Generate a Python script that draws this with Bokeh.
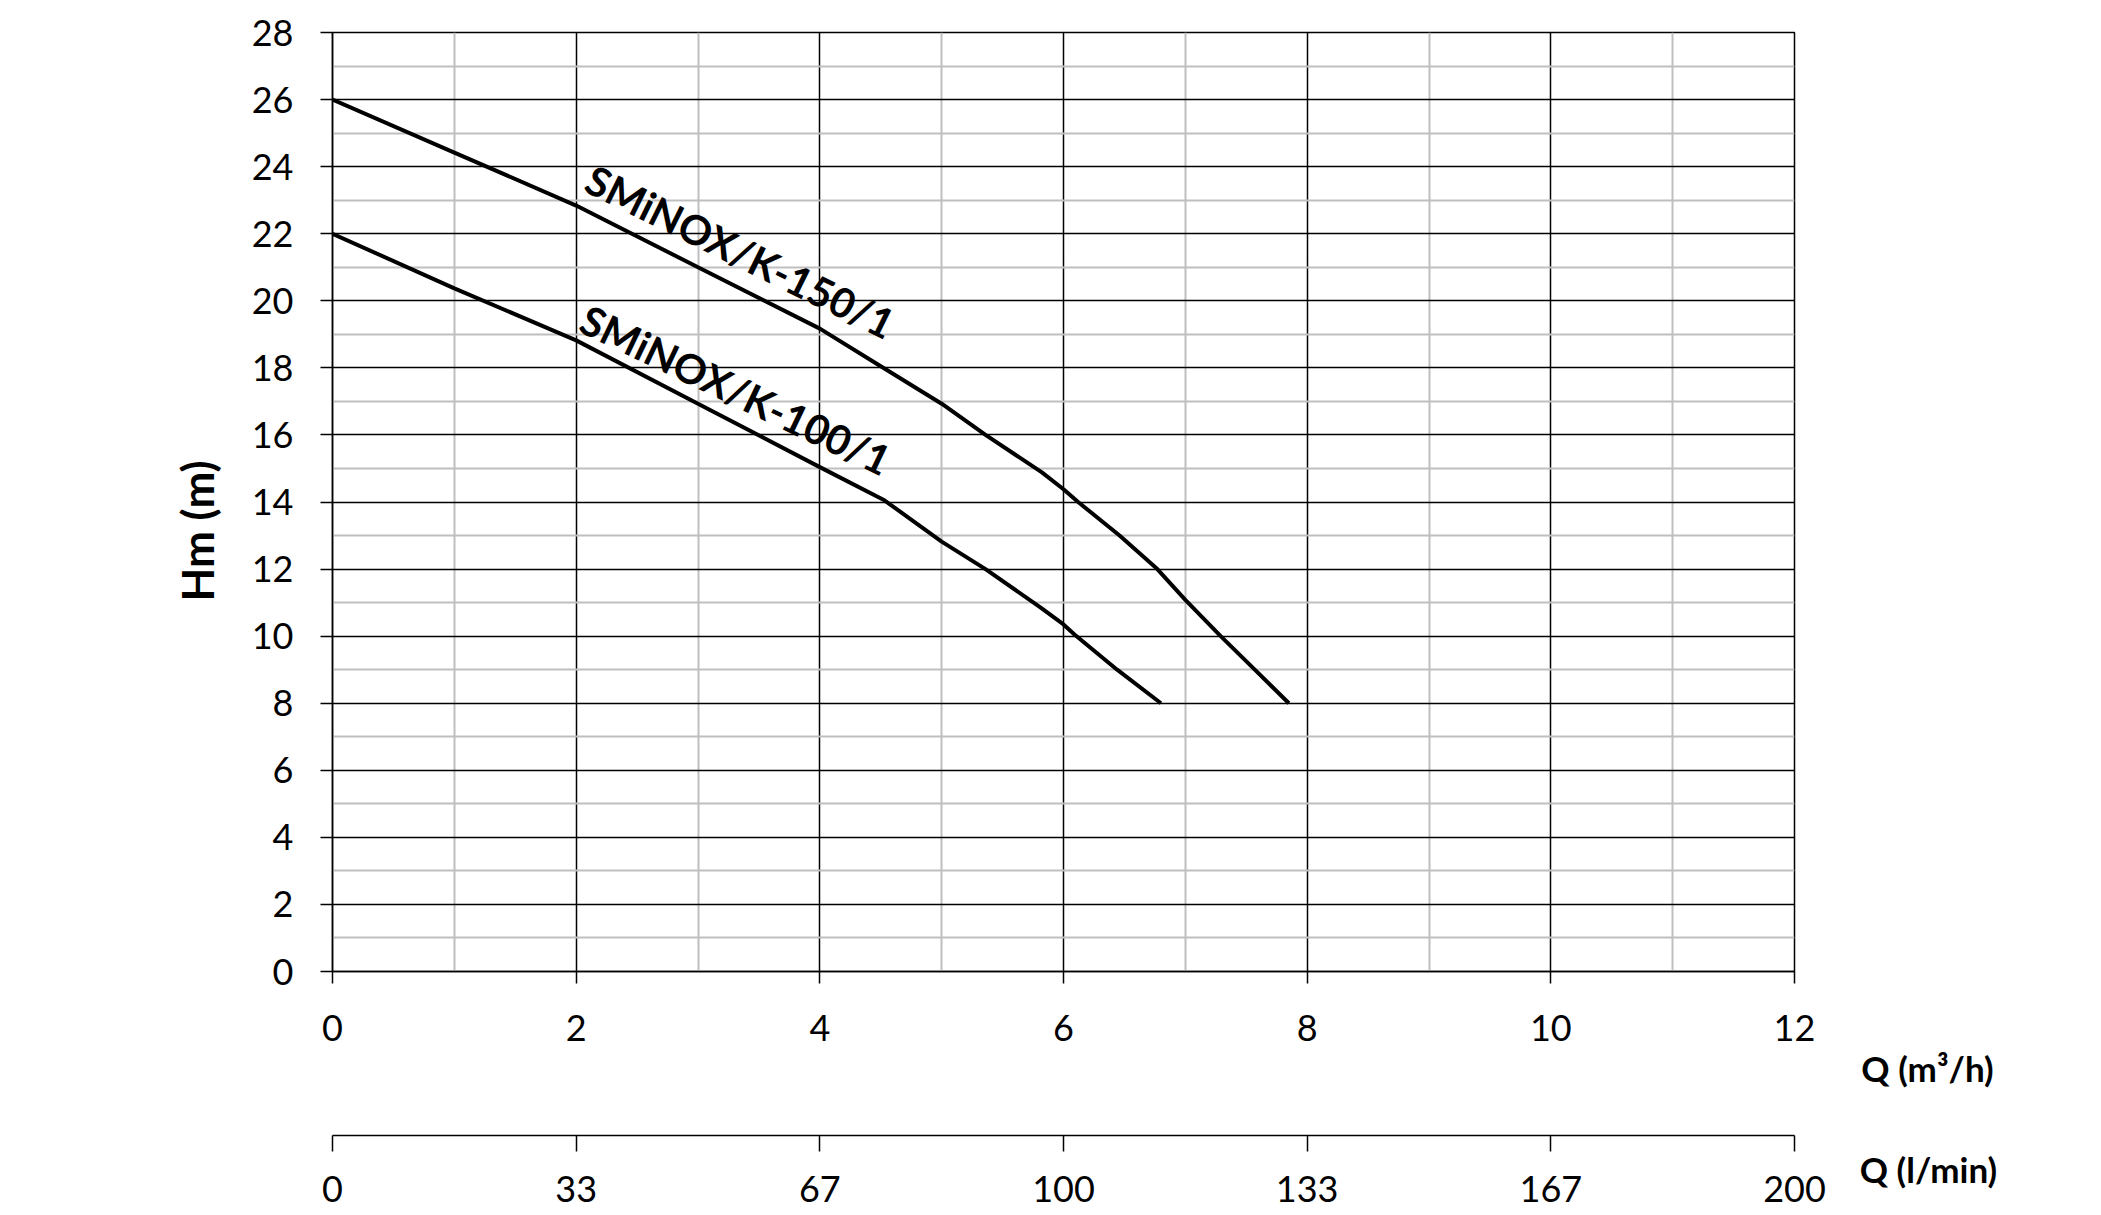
import math
from bokeh.plotting import figure
from bokeh.models import LinearAxis, FixedTicker, Label, Range1d, Title
from bokeh.layouts import row
from bokeh.embed import file_html
from bokeh.resources import INLINE

# ---- data ----
q_150 = [0, 1, 2, 3, 4, 4.5, 5, 5.36, 5.82, 6, 6.12, 6.46, 6.77, 7, 7.29, 7.57, 7.85]
h_150 = [26, 24.42, 22.84, 21.0, 19.17, 18.05, 16.93, 16.0, 14.89, 14.38, 14.0, 13.0, 12.0, 11.08, 10.0, 9.0, 8.0]

q_100 = [0, 1, 2, 3, 4, 4.53, 5, 5.36, 5.81, 6, 6.09, 6.44, 6.80]
h_100 = [22, 20.37, 18.82, 16.93, 15.04, 14.05, 12.82, 12.0, 10.86, 10.35, 10.05, 9.0, 8.0]

name_150 = "SMiNOX/K-150/1"
name_100 = "SMiNOX/K-100/1"

x_ticks = [0, 2, 4, 6, 8, 10, 12]
x_minor = [1, 3, 5, 7, 9, 11]
y_ticks = [0, 2, 4, 6, 8, 10, 12, 14, 16, 18, 20, 22, 24, 26, 28]
y_minor = [1, 3, 5, 7, 9, 11, 13, 15, 17, 19, 21, 23, 25, 27]
lmin_labels = ["0", "33", "67", "100", "133", "167", "200"]

y_title = "Hm (m)"
x_title = "Q (m³/h)"
x2_title = "Q (l/min)"

FONT = "Lato"
H = 1212

p = figure(output_backend="svg", toolbar_location=None,
           x_range=Range1d(0, 12), y_range=Range1d(0, 28),
           frame_width=1462, frame_height=939, height=H,
           min_border_left=332, min_border_top=32,
           min_border_right=46, min_border_bottom=H - 32 - 939)
p.background_fill_color = "white"
p.border_fill_color = "white"
p.outline_line_color = "black"
p.outline_line_width = 1.5

xa = p.xaxis[0]
ya = p.yaxis[0]
xa.ticker = FixedTicker(ticks=x_ticks, minor_ticks=x_minor)
ya.ticker = FixedTicker(ticks=y_ticks, minor_ticks=y_minor)


def style_axis(ax, tick_out, standoff):
    ax.major_label_text_font = FONT
    ax.major_label_text_font_size = "36px"
    ax.major_label_text_color = "black"
    ax.axis_line_color = "black"
    ax.axis_line_width = 1.5
    ax.major_tick_line_color = "black"
    ax.major_tick_line_width = 1.5
    ax.major_tick_in = 0
    ax.major_tick_out = tick_out
    ax.minor_tick_in = 0
    ax.minor_tick_out = 0
    ax.major_label_standoff = standoff


style_axis(xa, 12, 31)
style_axis(ya, 12, 27)

# blank axis label on the m3/h axis only reserves the gap above the l/min axis
xa.axis_label = " "
xa.axis_label_text_font_size = "1px"
xa.axis_label_standoff = 88

for g in (p.xgrid[0], p.ygrid[0]):
    g.grid_line_color = "black"
    g.grid_line_width = 1.5
    g.minor_grid_line_color = "#bfbfbf"
    g.minor_grid_line_width = 2
p.xgrid[0].ticker = xa.ticker
p.ygrid[0].ticker = ya.ticker

# second axis l/min
xa2 = LinearAxis(ticker=FixedTicker(ticks=x_ticks),
                 major_label_overrides={k: v for k, v in zip(x_ticks, lmin_labels)})
style_axis(xa2, 16, 24)
p.add_layout(xa2, "below")

# y title on the left
p.add_layout(Title(text=y_title, align="left", offset=370, vertical_align="bottom",
                   standoff=52, text_font=FONT, text_font_size="44px",
                   text_font_style="bold", text_color="black"), "left")

# curves
p.line(q_150, h_150, line_color="black", line_width=4)
p.line(q_100, h_100, line_color="black", line_width=4)

# curve labels
p.add_layout(Label(x=2.105, y=23.70, text=name_150, angle=-26.3 * math.pi / 180,
                   text_font=FONT, text_font_size="41px", text_font_style="bold",
                   text_align="left", text_baseline="alphabetic", text_color="black"))
p.add_layout(Label(x=2.06, y=19.52, text=name_100, angle=-25.6 * math.pi / 180,
                   text_font=FONT, text_font_size="41px", text_font_style="bold",
                   text_align="left", text_baseline="alphabetic", text_color="black"))

# side strip on the right holding the two x titles (pixel coordinates)
side = figure(output_backend="svg", toolbar_location=None,
              width=2101 - 1840, height=H,
              x_range=Range1d(1840, 2101), y_range=Range1d(H, 0),
              x_axis_location=None, y_axis_location=None,
              min_border=0)
side.outline_line_color = None
side.background_fill_color = "white"
side.border_fill_color = "white"
side.xgrid.visible = False
side.ygrid.visible = False
side.add_layout(Label(x=1927, y=1067, text=x_title,
                      text_font=FONT, text_font_size="35px", text_font_style="bold",
                      text_align="center", text_baseline="middle", text_color="black"))
side.add_layout(Label(x=1928, y=1168, text=x2_title,
                      text_font=FONT, text_font_size="35px", text_font_style="bold",
                      text_align="center", text_baseline="middle", text_color="black"))

for fig in (p, side):
    try:
        fig.frame_align = False
    except Exception:
        pass

layout = row(p, side, spacing=0)
open("out.html", "w").write(file_html(layout, INLINE))
